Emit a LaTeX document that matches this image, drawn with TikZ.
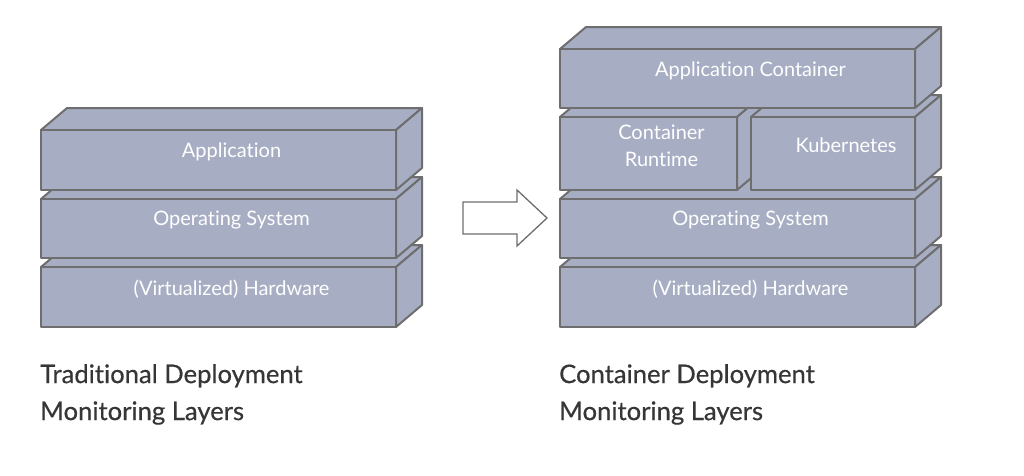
\documentclass[tikz,border=0pt]{standalone}
\usepackage{fontspec}
\setmainfont{Lato}[Ligatures=NoCommon]
\newfontfamily\capfont{Lato}[Ligatures=NoCommon, FakeBold=0.5]
\definecolor{boxfill}{HTML}{A7AEC4}
\definecolor{edge}{HTML}{6E6E6E}
\definecolor{captxt}{HTML}{363636}
\tikzset{
  face/.style={fill=boxfill, draw=edge, line width=2pt, line join=round},
  front/.style={face, rectangle, inner sep=0pt, outer sep=0pt},
  lbl/.style={text=white, font=\fontsize{20}{27}\selectfont, align=center, inner sep=0pt},
  caption/.style={text=captxt, font=\capfont\fontsize{25.6}{37}\selectfont, align=left, anchor=north west, inner sep=0pt},
  blockarrow/.style={fill=white, draw=edge, line width=1.3pt, line join=miter}
}
% #1 name, #2 x1, #3 y1, #4 x2, #5 y2, #6 text
\newcommand\layerbox[6]{%
  \draw[face] (#2,#3) -- ({#2+26},{#3-22}) -- ({#4+26},{#3-22}) -- (#4,#3) -- cycle;
  \draw[face] (#4,#3) -- ({#4+26},{#3-22}) -- ({#4+26},{#5-22}) -- (#4,#5) -- cycle;
  \node[front, minimum width={(#4-#2)*1pt}, minimum height={(#5-#3)*1pt}] (#1) at ({(#2+#4)/2},{(#3+#5)/2}) {};
  \node[lbl] (#1-t) at ({(#2+#4+26)/2},{(#3-22+#5)/2+3}) {#6};
}
\begin{document}
\begin{tikzpicture}[x=1pt,y=-1pt]
\useasboundingbox (0,0) rectangle (1024,475);
% left stack
\layerbox{lhw}{41}{267}{396}{327}{(Virtualized) Hardware}
\layerbox{los}{41}{199}{396}{258}{Operating System}
\layerbox{lapp}{41}{130}{396}{190}{Application}
% right stack
\layerbox{rhw}{560}{267}{915}{327}{(Virtualized) Hardware}
\layerbox{ros}{560}{199}{915}{258}{Operating System}
\layerbox{rcr}{560}{117}{737}{190}{Container\\Runtime}
\layerbox{rk8s}{751}{117}{915}{190}{Kubernetes}
\layerbox{rapp}{560}{49}{915}{108}{Application Container}
% arrow
\draw[blockarrow] (463,202) -- (517,202) -- (517,190) -- (547,218) -- (517,246) -- (517,234) -- (463,234) -- cycle;
% captions
\node[caption] (capl) at (40,364) {Traditional Deployment\\Monitoring Layers};
\node[caption] (capr) at (559,364) {Container Deployment\\Monitoring Layers};
\end{tikzpicture}
\end{document}
